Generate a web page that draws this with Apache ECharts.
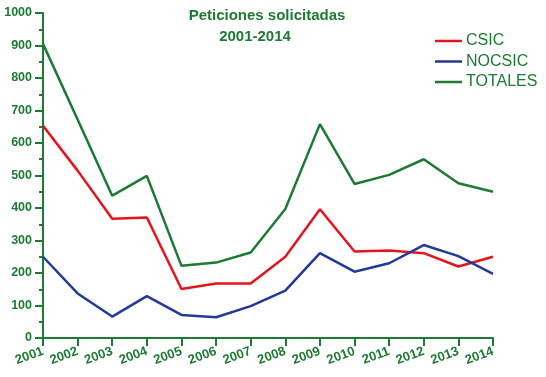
<!DOCTYPE html>
<html>
<head>
<meta charset="utf-8">
<script src="https://cdn.jsdelivr.net/npm/echarts@6/dist/echarts.min.js"></script>
<style>
html,body{margin:0;padding:0;background:#fff;}
#c{width:546px;height:377px;}
</style>
</head>
<body>
<div id="c"></div>
<script>
const years = ['2001','2002','2003','2004','2005','2006','2007','2008','2009','2010','2011','2012','2013','2014'];
const csic = [653, 515, 367, 371, 151, 168, 168, 250, 396, 266, 269, 261, 220, 250];
const nocsic = [250, 137, 66, 129, 71, 64, 98, 146, 261, 204, 230, 286, 252, 197];
const totales = [905, 672, 438, 499, 222, 232, 263, 397, 658, 474, 502, 550, 476, 450];
const yTicks = [0, 100, 200, 300, 400, 500, 600, 700, 800, 900, 1000];

const GREEN = '#1d7a34';
const FONT = '"Liberation Sans", Arial, sans-serif';

const chart = echarts.init(document.getElementById('c'), null, {renderer: 'canvas'});
chart.setOption({
  animation: false,
  backgroundColor: '#fff',
  title: [
    {text: 'Peticiones solicitadas', left: 267, top: 8, textAlign: 'center', padding: 0,
     textStyle: {color: GREEN, fontSize: 15, fontWeight: 'bold', fontFamily: FONT}},
    {text: '2001-2014', left: 255, top: 29, textAlign: 'center', padding: 0,
     textStyle: {color: GREEN, fontSize: 15, fontWeight: 'bold', fontFamily: FONT}}
  ],
  legend: {
    orient: 'vertical',
    left: 435, top: 33, padding: 0,
    itemWidth: 27, itemHeight: 2.5, itemGap: 4.5,
    icon: 'rect',
    textStyle: {color: GREEN, fontSize: 16, fontFamily: FONT, padding: [0,0,0,-1]},
    data: ['CSIC', 'NOCSIC', 'TOTALES']
  },
  grid: {left: 43, right: 53, top: 13, bottom: 39, containLabel: false},
  xAxis: {
    type: 'category',
    data: years,
    boundaryGap: false,
    axisLine: {lineStyle: {color: GREEN, width: 2}},
    axisTick: {alignWithLabel: true, length: 8, lineStyle: {color: GREEN, width: 2}},
    axisLabel: {color: GREEN, fontSize: 13, fontWeight: 'bold', fontFamily: FONT, rotate: 20, margin: 13, interval: 0},
    splitLine: {show: false}
  },
  yAxis: {
    type: 'value',
    min: yTicks[0], max: yTicks[yTicks.length - 1], interval: 100,
    axisLine: {show: true, lineStyle: {color: GREEN, width: 2}},
    axisTick: {show: true, length: 8, lineStyle: {color: GREEN, width: 2}},
    minorTick: {show: true, splitNumber: 2, length: 4, lineStyle: {color: GREEN, width: 2}},
    axisLabel: {color: GREEN, fontSize: 12.5, fontWeight: 'bold', fontFamily: FONT, margin: 11,
                formatter: v => String(v)},
    splitLine: {show: false}
  },
  series: [
    {name: 'CSIC', type: 'line', data: csic, symbol: 'none', color: '#e5141b', lineStyle: {width: 2.5}},
    {name: 'NOCSIC', type: 'line', data: nocsic, symbol: 'none', color: '#22399a', lineStyle: {width: 2.5}},
    {name: 'TOTALES', type: 'line', data: totales, symbol: 'none', color: '#1d7a34', lineStyle: {width: 2.5}}
  ]
});
</script>
</body>
</html>
